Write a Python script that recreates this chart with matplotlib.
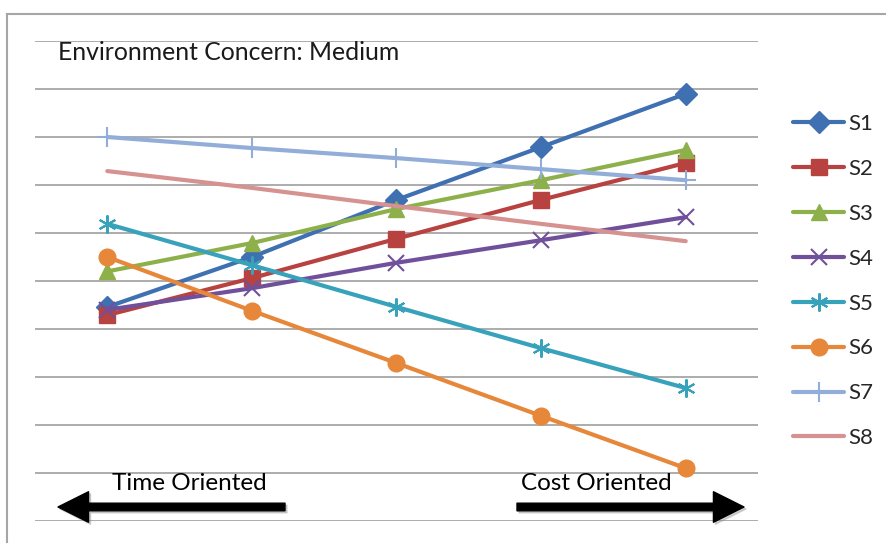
import matplotlib
matplotlib.use('Agg')
import matplotlib.pyplot as plt
from matplotlib.lines import Line2D

# five positions along the time -> cost axis
positions = [0, 1, 2, 3, 4]
labels = ['S1', 'S2', 'S3', 'S4', 'S5', 'S6', 'S7', 'S8']

s1 = [4.46, 5.50, 6.69, 7.79, 8.90]
s2 = [4.29, 5.06, 5.88, 6.69, 7.46]
s3 = [5.20, 5.79, 6.50, 7.10, 7.73]
s4 = [4.40, 4.85, 5.38, 5.85, 6.33]
s5 = [6.19, 5.33, 4.46, 3.60, 2.77]
s6 = [5.50, 4.38, 3.29, 2.19, 1.10]
s7 = [8.00, 7.77, 7.56, 7.33, 7.10]
s8 = [7.29, 6.94, 6.56, 6.19, 5.83]

series = [s1, s2, s3, s4, s5, s6, s7, s8]
colors = ['#3F70B1', '#B8423F', '#8DB04B', '#71509B', '#38A2BB', '#E6873A', '#92AED8', '#D59290']
markers = ['D', 's', '^', 'x', (6, 2, 0), 'o', '+', None]
msizes = [11, 11, 12, 12, 13, 12, 14, 0]

plt.rcParams['font.family'] = ['Lato', 'DejaVu Sans']

W, H = 887, 543
fig = plt.figure(figsize=(W / 100, H / 100), dpi=100)
ax = fig.add_axes([35 / W, (H - 521) / H, (758 - 35) / W, (521 - 41) / H])

for vals, lab, c, m, ms in zip(series, labels, colors, markers, msizes):
    mew = 1.5 if m in ('x', '+', (6, 2, 0)) else 1
    ax.plot(positions, vals, color=c, lw=3, marker=m, markersize=ms,
            markeredgewidth=mew, label=lab, solid_capstyle='round')

ax.set_xlim(-0.5, 4.5)
ax.set_ylim(0, 10)
ax.set_yticks(range(0, 11))
ax.set_xticks([])
ax.grid(axis='y', color='#A6A6A6', lw=1.3)
ax.set_axisbelow(True)
ax.tick_params(left=False, labelleft=False)
for sp in ax.spines.values():
    sp.set_visible(False)

# outer chart border (runs off the picture at right and bottom)
fig.add_artist(Line2D([7 / W, 7 / W], [0, (H - 14) / H], color='#A6A6A6', lw=1.5))
fig.add_artist(Line2D([7 / W, 1], [(H - 14) / H, (H - 14) / H], color='#A6A6A6', lw=1.5))

fig.text(58 / W, (H - 52) / H, 'Environment Concern: Medium', fontsize=17.8,
         va='center', ha='left', color='#1a1a1a')

leg = ax.legend(loc='upper left', bbox_to_anchor=(793 / W, (H - 114) / H),
                bbox_transform=fig.transFigure, frameon=False, fontsize=16,
                handlelength=2.3, handletextpad=0.2, labelspacing=1.12, numpoints=1,
                borderaxespad=0, borderpad=0)
for t in leg.get_texts():
    t.set_color('#262626')

# direction arrows with soft shadow
def arrow(x0, x1, y):
    for dx, dy, col, a in [(2, -2, '#888888', 0.35), (0, 0, 'black', 1)]:
        fig.add_artist(matplotlib.patches.FancyArrowPatch(
            (x0 + dx, y + dy), (x1 + dx, y + dy), transform=None,
            arrowstyle='simple,head_length=1,head_width=1,tail_width=0.25',
            mutation_scale=22, color=col, alpha=a, shrinkA=0, shrinkB=0))

arrow(285, 58, H - 507)
arrow(517, 744, H - 507)
fig.text(189 / W, (H - 484) / H, 'Time Oriented', fontsize=17.5, ha='center', va='center')
fig.text(596 / W, (H - 484) / H, 'Cost Oriented', fontsize=17.5, ha='center', va='center')

fig.savefig('out.png', dpi=100)
